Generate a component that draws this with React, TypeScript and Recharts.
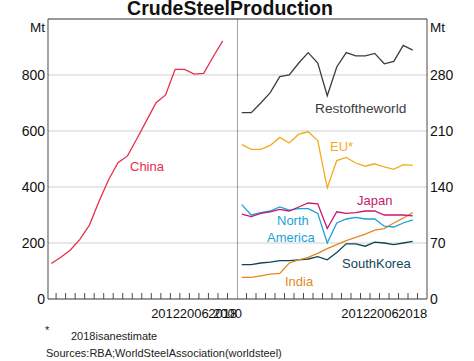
import { LineChart, Line, XAxis, YAxis, CartesianGrid, ReferenceLine } from 'recharts'

// ── Data (Mt) ─────────────────────────────────────────────────────────────────

const YEARS = [2000, 2001, 2002, 2003, 2004, 2005, 2006, 2007, 2008, 2009,
               2010, 2011, 2012, 2013, 2014, 2015, 2016, 2017, 2018]

const CHINA         = [127, 149, 175, 213, 264, 348, 425, 487, 511, 573, 637, 701, 729, 820, 820, 803, 806, 865, 922]
const REST_OF_WORLD = [233, 233, 245, 258, 278, 280, 295, 308, 295, 254, 290, 308, 304, 304, 307, 294, 297, 317, 311]
const EU            = [193, 187, 187, 192, 202, 195, 206, 209, 198, 139, 173, 177, 170, 166, 169, 165, 162, 168, 167]
const JAPAN         = [106, 103, 107, 109, 112, 110, 115, 120, 119, 88, 109, 107, 108, 110, 110, 105, 105, 105, 104]
const NORTH_AMERICA = [118, 105, 108, 110, 115, 111, 113, 113, 107, 70, 95, 100, 102, 100, 100, 91, 90, 95, 99]
const INDIA         = [27, 27, 29, 31, 32, 45, 49, 52, 57, 63, 68, 73, 77, 81, 86, 88, 95, 101, 108]
const SOUTH_KOREA   = [43, 43, 45, 46, 48, 48, 49, 50, 53, 49, 58, 69, 69, 66, 71, 70, 68, 70, 72]

const LEFT_TICKS  = [0, 200, 400, 600, 800]
const RIGHT_TICKS = [0, 70, 140, 210, 280]

const MINOR_TICKS = [2000.5, 2001.5, 2002.5, 2003.5, 2004.5, 2005.5, 2006.5, 2007.5, 2008.5, 2009.5,
                     2010.5, 2011.5, 2012.5, 2013.5, 2014.5, 2015.5, 2016.5, 2017.5, 2018.5]

// tick labels as they appear on the original (order kept as printed)
const LEFT_LABEL_AT  = [2012, 2015, 2018, 2018.5]
const LEFT_LABELS    = ['2012', '2006', '2018', '2000']
const RIGHT_LABEL_AT = [2012, 2015, 2018]
const RIGHT_LABELS   = ['2012', '2006', '2018']

// ── Styles ────────────────────────────────────────────────────────────────────

const FRAME = '#4a4a4a'
const GRID  = '#d0d0d0'
const FONT  = '"Liberation Sans", Arial, sans-serif'

const C = {
  china:   '#e5304d',
  rest:    '#3d3d3d',
  eu:      '#f2aa1f',
  japan:   '#c7186c',
  na:      '#1c9fd8',
  india:   '#e3891c',
  korea:   '#0e4657',
}

const leftData = YEARS.map((year, i) => ({ year, china: CHINA[i] }))
const rightData = YEARS.map((year, i) => ({
  year,
  rest:  REST_OF_WORLD[i],
  eu:    EU[i],
  japan: JAPAN[i],
  na:    NORTH_AMERICA[i],
  india: INDIA[i],
  korea: SOUTH_KOREA[i],
}))

function tickSet(labelAt: number[]) {
  return Array.from(new Set([...MINOR_TICKS, ...labelAt])).sort((a, b) => a - b)
}

function makeTick(labelAt: number[], labels: string[]) {
  return (props: any) => {
    const { x, y, payload } = props
    const v = payload.value as number
    const li = labelAt.indexOf(v)
    return (
      <g>
        {MINOR_TICKS.includes(v) && (
          <line x1={x} x2={x} y1={y - 6} y2={y} stroke={FRAME} strokeWidth={1} />
        )}
        {li >= 0 && (
          <text x={x} y={y + 18.5} textAnchor="middle" fontSize={13} fill="#111" fontFamily={FONT}>
            {labels[li]}
          </text>
        )}
      </g>
    )
  }
}

// ── Annotations (text only) ───────────────────────────────────────────────────

const SERIES_LABELS = [
  { text: 'China',          x: 130, y: 171, color: C.china, size: 13 },
  { text: 'Restoftheworld', x: 315, y: 113, color: C.rest,  size: 13.7 },
  { text: 'EU*',            x: 330, y: 151, color: C.eu,    size: 13 },
  { text: 'Japan',          x: 357, y: 205, color: C.japan, size: 13 },
  { text: 'North',          x: 277, y: 225, color: C.na,    size: 13 },
  { text: 'America',        x: 267, y: 242, color: C.na,    size: 13 },
  { text: 'SouthKorea',     x: 342, y: 268, color: C.korea, size: 13 },
  { text: 'India',          x: 285, y: 286, color: C.india, size: 13 },
]

export default function App() {
  const lineProps = { type: 'linear' as const, dot: false, strokeWidth: 1.3, isAnimationActive: false }

  return (
    <div style={{ position: 'absolute', left: 0, top: 0, width: 474, height: 361, background: '#fff', fontFamily: FONT }}>
      {/* left panel is wider than its plot so the last x label is not clipped */}
      <div style={{ position: 'absolute', left: 0, top: 0 }}>
        <LineChart width={260} height={330} data={leftData} margin={{ top: 19, right: 23, bottom: 0, left: 8 }}>
          <CartesianGrid vertical={false} stroke={GRID} />
          <XAxis
            dataKey="year"
            type="number"
            domain={[1999.65, 2019.5]}
            ticks={tickSet(LEFT_LABEL_AT)}
            interval={0}
            tickLine={false}
            tickSize={0}
            tickMargin={0}
            height={31}
            axisLine={{ stroke: FRAME }}
            tick={makeTick(LEFT_LABEL_AT, LEFT_LABELS)}
          />
          <YAxis
            domain={[0, 1000]}
            ticks={LEFT_TICKS}
            width={40}
            tickLine={false}
            tickSize={0}
            tickMargin={3}
            axisLine={{ stroke: FRAME }}
            tick={{ fontSize: 14, fill: '#111', fontFamily: FONT }}
          />
          <ReferenceLine y={1000} stroke={FRAME} />
          <Line dataKey="china" stroke={C.china} {...lineProps} />
        </LineChart>
      </div>

      <div style={{ position: 'absolute', left: 237, top: 0 }}>
        <LineChart width={237} height={330} data={rightData} margin={{ top: 19, right: 7, bottom: 0, left: 0 }}>
          <CartesianGrid vertical={false} stroke={GRID} />
          <XAxis
            dataKey="year"
            type="number"
            domain={[1999.5, 2019.5]}
            ticks={tickSet(RIGHT_LABEL_AT)}
            interval={0}
            tickLine={false}
            tickSize={0}
            tickMargin={0}
            height={31}
            axisLine={{ stroke: FRAME }}
            tick={makeTick(RIGHT_LABEL_AT, RIGHT_LABELS)}
          />
          <YAxis
            orientation="right"
            domain={[0, 350]}
            ticks={RIGHT_TICKS}
            width={40}
            tickLine={false}
            tickSize={0}
            tickMargin={3}
            axisLine={{ stroke: FRAME }}
            tick={{ fontSize: 14, fill: '#111', fontFamily: FONT }}
          />
          <ReferenceLine y={350} stroke={FRAME} />
          <ReferenceLine x={1999.5} stroke={FRAME} />
          <Line dataKey="rest"  stroke={C.rest}  {...lineProps} />
          <Line dataKey="eu"    stroke={C.eu}    {...lineProps} />
          <Line dataKey="korea" stroke={C.korea} {...lineProps} />
          <Line dataKey="india" stroke={C.india} {...lineProps} />
          <Line dataKey="na"    stroke={C.na}    {...lineProps} />
          <Line dataKey="japan" stroke={C.japan} {...lineProps} />
        </LineChart>
      </div>

      <svg width={474} height={361} style={{ position: 'absolute', left: 0, top: 0, pointerEvents: 'none' }}>
        <text x={230} y={15} textAnchor="middle" fontSize={19.5} fontWeight="bold" fill="#111" fontFamily={FONT}>
          CrudeSteelProduction
        </text>
        <text x={45} y={32} textAnchor="end" fontSize={13.5} fill="#111" fontFamily={FONT}>Mt</text>
        <text x={430} y={32} fontSize={13.5} fill="#111" fontFamily={FONT}>Mt</text>

        {SERIES_LABELS.map(l => (
          <text key={l.text} x={l.x} y={l.y} fontSize={l.size} fill={l.color} fontFamily={FONT}>{l.text}</text>
        ))}

        <text x={45} y={334} fontSize={11} fill="#222" fontFamily={FONT}>*</text>
        <text x={71} y={340} fontSize={11} fill="#222" fontFamily={FONT}>2018isanestimate</text>
        <text x={46} y={356.5} fontSize={11} fill="#222" fontFamily={FONT}>Sources:RBA;WorldSteelAssociation(worldsteel)</text>
      </svg>
    </div>
  )
}
